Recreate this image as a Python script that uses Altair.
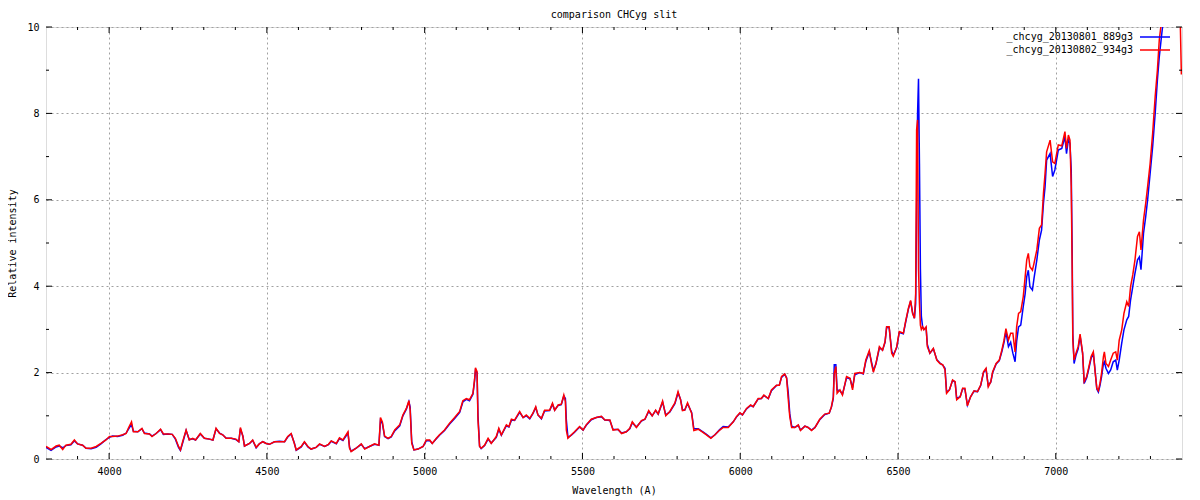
import altair as alt
import pandas as pd

chart_title = "comparison CHCyg slit"
series_names = ["_chcyg_20130801_889g3", "_chcyg_20130802_934g3"]
series_colors = ["#0000ff", "#ff0000"]
x_title = "Wavelength (A)"
y_title = "Relative intensity"

wavelength = [
    3800, 3816, 3832, 3842, 3853, 3863, 3879, 3890, 3900, 3916,
    3927, 3943, 3959, 3974, 3990, 4001, 4011, 4027, 4043, 4054,
    4062, 4071, 4077, 4091, 4104, 4112, 4128, 4136, 4149, 4163,
    4172, 4186, 4200, 4210, 4220, 4226, 4233, 4244, 4254, 4265,
    4274, 4289, 4302, 4318, 4329, 4339, 4350, 4360, 4371, 4387,
    4402, 4411, 4416, 4424, 4429, 4445, 4455, 4466, 4476, 4487,
    4498, 4508, 4524, 4540, 4556, 4566, 4577, 4587, 4593, 4609,
    4619, 4630, 4640, 4656, 4667, 4683,
    4695, 4704, 4720, 4730, 4741, 4757, 4762, 4767, 4783, 4799,
    4810, 4825, 4841, 4855, 4860, 4866, 4873, 4884, 4894, 4905,
    4921, 4931, 4942, 4950, 4954, 4959, 4966, 4979, 4995, 5005,
    5016, 5024, 5037, 5047, 5063, 5079, 5095, 5111, 5121, 5132,
    5142, 5153, 5158, 5161, 5166, 5169, 5174, 5179, 5190, 5201,
    5211, 5227, 5235, 5243, 5259, 5267, 5275, 5285, 5301, 5312,
    5322, 5333, 5343, 5352, 5359, 5370, 5380, 5396, 5405, 5412,
    5423, 5433, 5441, 5446, 5449, 5454, 5465, 5475, 5491, 5502,
    5512, 5528, 5544, 5560, 5571,
    5587, 5597, 5613, 5624, 5639, 5650, 5658, 5671, 5687, 5698,
    5710, 5721, 5732, 5740, 5754, 5764, 5777, 5793, 5803, 5811,
    5817, 5824, 5833, 5846, 5853, 5867, 5883, 5893, 5907, 5920,
    5935, 5946, 5962, 5978, 5988, 5999, 6007, 6020, 6033, 6041,
    6057, 6067, 6075, 6089, 6099, 6115, 6124, 6131, 6141, 6147,
    6152, 6157, 6163, 6173, 6184, 6191, 6205, 6215, 6226, 6237,
    6252, 6268, 6282, 6289, 6295, 6298, 6303, 6307, 6316, 6324,
    6337, 6348, 6356, 6363, 6379, 6390, 6398, 6409, 6416, 6422,
    6430, 6441, 6451, 6459,
    6464, 6472, 6480, 6485, 6496, 6504, 6517, 6524, 6533, 6540,
    6546, 6552, 6556, 6559, 6562, 6565, 6568, 6571, 6574, 6578,
    6582, 6589, 6593, 6601, 6612, 6623, 6633, 6642, 6649, 6654,
    6663, 6673, 6681, 6686, 6697, 6705, 6712, 6720, 6730, 6741,
    6752, 6762, 6771, 6779, 6786, 6794, 6800, 6811, 6821, 6829,
    6836, 6842, 6850, 6857, 6864, 6871, 6876, 6882, 6889, 6897,
    6903, 6908, 6913, 6918, 6926, 6931, 6940, 6948, 6955, 6961,
    6966, 6971, 6982, 6990, 6997, 7008, 7019, 7029, 7034, 7040,
    7045, 7049, 7052, 7054, 7058, 7064, 7071, 7077, 7085, 7090,
    7098, 7105, 7112, 7119, 7124, 7130, 7135, 7140, 7145, 7151,
    7154, 7159, 7167, 7174, 7182, 7190, 7195, 7201, 7209, 7216,
    7225, 7231, 7237, 7244, 7251, 7259, 7265, 7270, 7278, 7285,
    7291, 7299, 7307, 7315, 7322, 7328, 7336, 7343, 7360, 7380,
    7392, 7398,
]

# _chcyg_20130801_889g3 (blue)
flux_0801 = [
    0.27, 0.20, 0.28, 0.30, 0.26, 0.31, 0.33, 0.42, 0.35, 0.32,
    0.25, 0.24, 0.27, 0.35, 0.45, 0.50, 0.53, 0.52, 0.55, 0.60,
    0.70, 0.80, 0.64, 0.63, 0.70, 0.60, 0.58, 0.53, 0.59, 0.68,
    0.57, 0.58, 0.57, 0.46, 0.27, 0.20, 0.37, 0.66, 0.45, 0.47,
    0.44, 0.58, 0.48, 0.46, 0.44, 0.70, 0.60, 0.56, 0.48, 0.48,
    0.45, 0.40, 0.70, 0.53, 0.30, 0.36, 0.43, 0.26, 0.35, 0.40,
    0.36, 0.34, 0.40, 0.41, 0.40, 0.51, 0.58, 0.37, 0.20, 0.28,
    0.39, 0.28, 0.23, 0.27, 0.34, 0.29,
    0.33, 0.41, 0.35, 0.47, 0.43, 0.60, 0.27, 0.18, 0.25, 0.34,
    0.24, 0.29, 0.34, 0.32, 0.90, 0.82, 0.52, 0.47, 0.51, 0.65,
    0.77, 1.00, 1.15, 1.33, 1.20, 0.40, 0.21, 0.23, 0.29, 0.42,
    0.43, 0.36, 0.47, 0.55, 0.66, 0.81, 0.94, 1.08, 1.32, 1.38,
    1.35, 1.50, 1.80, 2.05, 2.00, 1.00, 0.30, 0.24, 0.31, 0.46,
    0.37, 0.50, 0.69, 0.55, 0.77, 0.74, 0.90, 0.89, 1.08, 0.96,
    1.00, 0.93, 1.05, 1.19, 1.02, 0.93, 1.11, 1.12, 1.27, 1.13,
    1.24, 1.26, 1.46, 1.40, 0.90, 0.50, 0.55, 0.62, 0.74, 0.67,
    0.78, 0.91, 0.96, 0.98, 0.90,
    0.89, 0.68, 0.68, 0.60, 0.63, 0.70, 0.84, 0.74, 0.88, 0.92,
    1.10, 1.00, 1.12, 1.04, 1.32, 1.02, 1.09, 1.28, 1.53, 1.38,
    1.14, 1.13, 1.28, 1.08, 0.70, 0.70, 0.62, 0.57, 0.49, 0.56,
    0.68, 0.75, 0.74, 0.86, 0.97, 1.06, 1.02, 1.16, 1.24, 1.21,
    1.39, 1.40, 1.47, 1.40, 1.58, 1.70, 1.71, 1.89, 1.96, 1.88,
    1.55, 1.05, 0.76, 0.73, 0.78, 0.67, 0.76, 0.73, 0.67, 0.73,
    0.91, 1.03, 1.06, 1.20, 1.40, 2.18, 2.18, 1.60, 1.58, 1.50,
    1.88, 1.86, 1.65, 1.95, 2.00, 1.97, 2.26, 2.48, 2.25, 2.05,
    2.20, 2.57, 2.52, 2.70,
    3.05, 3.04, 2.50, 2.40, 2.58, 2.93, 2.90, 3.16, 3.47, 3.65,
    3.40, 3.26, 3.60, 5.76, 8.00, 8.80, 6.84, 4.40, 3.30, 3.06,
    3.00, 3.04, 2.65, 2.45, 2.55, 2.30, 2.22, 2.17, 2.10, 1.55,
    1.60, 1.82, 1.78, 1.40, 1.44, 1.63, 1.62, 1.25, 1.44, 1.57,
    1.56, 1.70, 2.00, 2.08, 1.70, 1.78, 2.00, 2.20, 2.28, 2.48,
    2.70, 2.95, 2.60, 2.70, 2.45, 2.25, 2.72, 3.06, 3.10, 3.53,
    3.83, 4.22, 4.37, 3.99, 3.91, 4.18, 4.61, 5.07, 5.30, 5.92,
    6.30, 6.92, 7.07, 6.54, 6.69, 7.15, 7.19, 7.46, 7.07, 7.40,
    7.30, 6.69, 4.76, 2.90, 2.21, 2.40, 2.55, 2.85, 2.45, 1.75,
    1.88, 2.10, 2.33, 2.45, 2.10, 1.62, 1.55, 1.70, 1.90, 2.21,
    2.25, 2.10, 1.98, 2.06, 2.25, 2.29, 2.06, 2.29, 2.68, 2.99,
    3.22, 3.30, 3.68, 3.99, 4.30, 4.61, 4.68, 4.38, 5.22, 5.61,
    6.00, 6.61, 7.23, 8.00, 8.77, 9.31, 9.85, 10.30, 11.00, 11.80,
    12.00, 11.50,
]

# _chcyg_20130802_934g3 (red)
flux_0802 = [
    0.29, 0.22, 0.30, 0.32, 0.22, 0.32, 0.34, 0.44, 0.35, 0.32,
    0.25, 0.25, 0.29, 0.36, 0.44, 0.52, 0.52, 0.53, 0.56, 0.59,
    0.73, 0.86, 0.63, 0.63, 0.71, 0.59, 0.58, 0.52, 0.59, 0.69,
    0.58, 0.58, 0.57, 0.48, 0.29, 0.21, 0.40, 0.67, 0.44, 0.48,
    0.44, 0.59, 0.48, 0.46, 0.44, 0.71, 0.59, 0.56, 0.48, 0.48,
    0.46, 0.40, 0.73, 0.52, 0.30, 0.36, 0.44, 0.27, 0.35, 0.40,
    0.36, 0.34, 0.40, 0.40, 0.40, 0.52, 0.59, 0.36, 0.21, 0.29,
    0.40, 0.29, 0.23, 0.27, 0.35, 0.29,
    0.34, 0.42, 0.36, 0.49, 0.44, 0.63, 0.25, 0.17, 0.25, 0.35,
    0.23, 0.29, 0.35, 0.32, 0.96, 0.86, 0.53, 0.48, 0.52, 0.67,
    0.79, 1.02, 1.17, 1.35, 1.13, 0.36, 0.21, 0.23, 0.29, 0.44,
    0.44, 0.36, 0.48, 0.56, 0.67, 0.83, 0.96, 1.10, 1.35, 1.40,
    1.37, 1.52, 1.83, 2.11, 2.02, 0.90, 0.29, 0.25, 0.32, 0.48,
    0.36, 0.52, 0.71, 0.56, 0.79, 0.75, 0.92, 0.90, 1.10, 0.96,
    1.02, 0.94, 1.06, 1.21, 1.02, 0.94, 1.13, 1.13, 1.29, 1.13,
    1.25, 1.27, 1.48, 1.33, 0.67, 0.48, 0.56, 0.63, 0.75, 0.67,
    0.79, 0.92, 0.96, 0.99, 0.90,
    0.90, 0.67, 0.69, 0.59, 0.63, 0.71, 0.86, 0.73, 0.89, 0.92,
    1.12, 1.00, 1.13, 1.04, 1.34, 1.00, 1.10, 1.30, 1.56, 1.37,
    1.12, 1.13, 1.30, 1.06, 0.66, 0.69, 0.61, 0.56, 0.48, 0.56,
    0.67, 0.73, 0.73, 0.86, 0.98, 1.07, 1.02, 1.17, 1.25, 1.21,
    1.40, 1.40, 1.48, 1.40, 1.60, 1.71, 1.71, 1.91, 1.97, 1.87,
    1.40, 0.98, 0.73, 0.73, 0.79, 0.66, 0.76, 0.73, 0.66, 0.73,
    0.92, 1.04, 1.06, 1.21, 1.44, 1.98, 2.14, 1.52, 1.60, 1.48,
    1.91, 1.87, 1.60, 1.98, 2.00, 1.98, 2.29, 2.51, 2.21, 2.01,
    2.21, 2.60, 2.52, 2.72,
    3.06, 3.06, 2.45, 2.38, 2.60, 2.95, 2.91, 3.18, 3.49, 3.67,
    3.37, 3.26, 3.83, 7.62, 7.85, 4.40, 3.60, 3.10, 3.00, 3.06,
    2.99, 3.06, 2.60, 2.45, 2.56, 2.29, 2.21, 2.18, 2.06, 1.52,
    1.60, 1.83, 1.79, 1.37, 1.44, 1.64, 1.64, 1.23, 1.44, 1.58,
    1.56, 1.71, 2.02, 2.10, 1.67, 1.79, 2.02, 2.21, 2.29, 2.52,
    2.75, 3.02, 2.75, 2.91, 2.91, 2.48, 3.06, 3.37, 3.41, 3.76,
    4.22, 4.61, 4.76, 4.45, 4.37, 4.53, 4.84, 5.34, 5.42, 6.15,
    6.61, 7.11, 7.38, 6.88, 6.84, 7.27, 7.25, 7.58, 7.19, 7.50,
    7.38, 6.30, 4.37, 2.75, 2.29, 2.45, 2.60, 2.89, 2.45, 1.79,
    1.91, 2.14, 2.37, 2.48, 2.06, 1.64, 1.58, 1.75, 1.98, 2.37,
    2.48, 2.21, 2.14, 2.29, 2.45, 2.48, 2.29, 2.75, 2.99, 3.37,
    3.64, 3.53, 3.99, 4.26, 4.61, 5.15, 5.26, 4.84, 5.53, 5.92,
    6.30, 6.84, 7.54, 8.39, 9.00, 9.70, 10.20, 10.70, 11.50, 12.00,
    11.00, 8.90,
]

assert len(wavelength) == len(flux_0801) == len(flux_0802)

x_domain = [3800, 7400]
y_domain = [0, 10]
x_major = [4000, 4500, 5000, 5500, 6000, 6500, 7000]
x_minor = [3900, 4100, 4200, 4300, 4400, 4600, 4700, 4800, 4900,
           5100, 5200, 5300, 5400, 5600, 5700, 5800, 5900,
           6100, 6200, 6300, 6400, 6600, 6700, 6800, 6900,
           7100, 7200, 7300]
y_major = [0, 2, 4, 6, 8, 10]
y_minor = [1, 3, 5, 7, 9]

W, H = 1136, 432
FONT = "DejaVu Sans Mono"

xs = alt.Scale(domain=x_domain, nice=False, zero=False)
ys = alt.Scale(domain=y_domain, nice=False, zero=False)

df_blue = pd.DataFrame({"wavelength": wavelength, "intensity": flux_0801})
df_red = pd.DataFrame({"wavelength": wavelength, "intensity": flux_0802})

x_axis = alt.Axis(values=x_major, format="d", title=x_title, grid=True,
                  gridDash=[2, 3], gridColor="#a0a0a0", gridWidth=1,
                  ticks=False, domain=False, labelPadding=7, titlePadding=9,
                  labelFont=FONT, labelFontSize=10, labelColor="black",
                  titleFont=FONT, titleFontSize=10, titleFontWeight="normal",
                  titleColor="black")
y_axis = alt.Axis(values=y_major, format="d", title=y_title, grid=True,
                  gridDash=[2, 3], gridColor="#a0a0a0", gridWidth=1,
                  ticks=False, domain=False, labelPadding=7, titlePadding=9,
                  labelFont=FONT, labelFontSize=10, labelColor="black",
                  titleFont=FONT, titleFontSize=10, titleFontWeight="normal",
                  titleColor="black")

def X(field):
    return alt.X(field, type="quantitative", scale=xs, axis=x_axis, title=x_title)

def Y(field):
    return alt.Y(field, type="quantitative", scale=ys, axis=y_axis, title=y_title)

blue_line = alt.Chart(df_blue).mark_line(
    color=series_colors[0], strokeWidth=1.5, clip=True
).encode(x=X("wavelength"), y=Y("intensity"))
red_line = alt.Chart(df_red).mark_line(
    color=series_colors[1], strokeWidth=1.5, clip=True
).encode(x=X("wavelength"), y=Y("intensity"))

def xticks(vals, length):
    d = pd.DataFrame({"wavelength": vals})
    base = alt.Chart(d).mark_rule(color="black", strokeWidth=1)
    bottom = base.encode(x=X("wavelength"), y=alt.value(H), y2=alt.value(H - length))
    top = base.encode(x=X("wavelength"), y=alt.value(0), y2=alt.value(length))
    return [bottom, top]

def yticks(vals, length):
    d = pd.DataFrame({"intensity": vals})
    base = alt.Chart(d).mark_rule(color="black", strokeWidth=1)
    left = base.encode(y=Y("intensity"), x=alt.value(0), x2=alt.value(length))
    right = base.encode(y=Y("intensity"), x=alt.value(W), x2=alt.value(W - length))
    return [left, right]

tick_layers = xticks(x_major, 6) + xticks(x_minor, 3) + yticks(y_major, 6) + yticks(y_minor, 3)

legend_layers = []
for i, (name, col) in enumerate(zip(series_names, series_colors)):
    ld = pd.DataFrame({"label": [name]})
    ypos = 10 + 13 * i
    legend_layers.append(
        alt.Chart(ld).mark_text(align="right", baseline="middle", font=FONT,
                                fontSize=10, color="black").encode(
            text="label:N", x=alt.value(1087), y=alt.value(ypos))
    )
    legend_layers.append(
        alt.Chart(ld).mark_rule(color=col, strokeWidth=1.5).encode(
            x=alt.value(1094), x2=alt.value(1124), y=alt.value(ypos))
    )

chart = alt.layer(
    blue_line, red_line, *tick_layers, *legend_layers
).properties(
    width=W, height=H,
    title=alt.TitleParams(chart_title, font=FONT, fontSize=10,
                          fontWeight="normal", anchor="middle", offset=2,
                          color="black"),
    autosize=alt.AutoSizeParams(type="none"),
    padding={"left": 38, "top": 19, "right": 10, "bottom": 41},
).configure_view(stroke="black", strokeWidth=1).configure(background="white")

chart.save("out.html", embed_options={"renderer": "svg", "actions": False})
